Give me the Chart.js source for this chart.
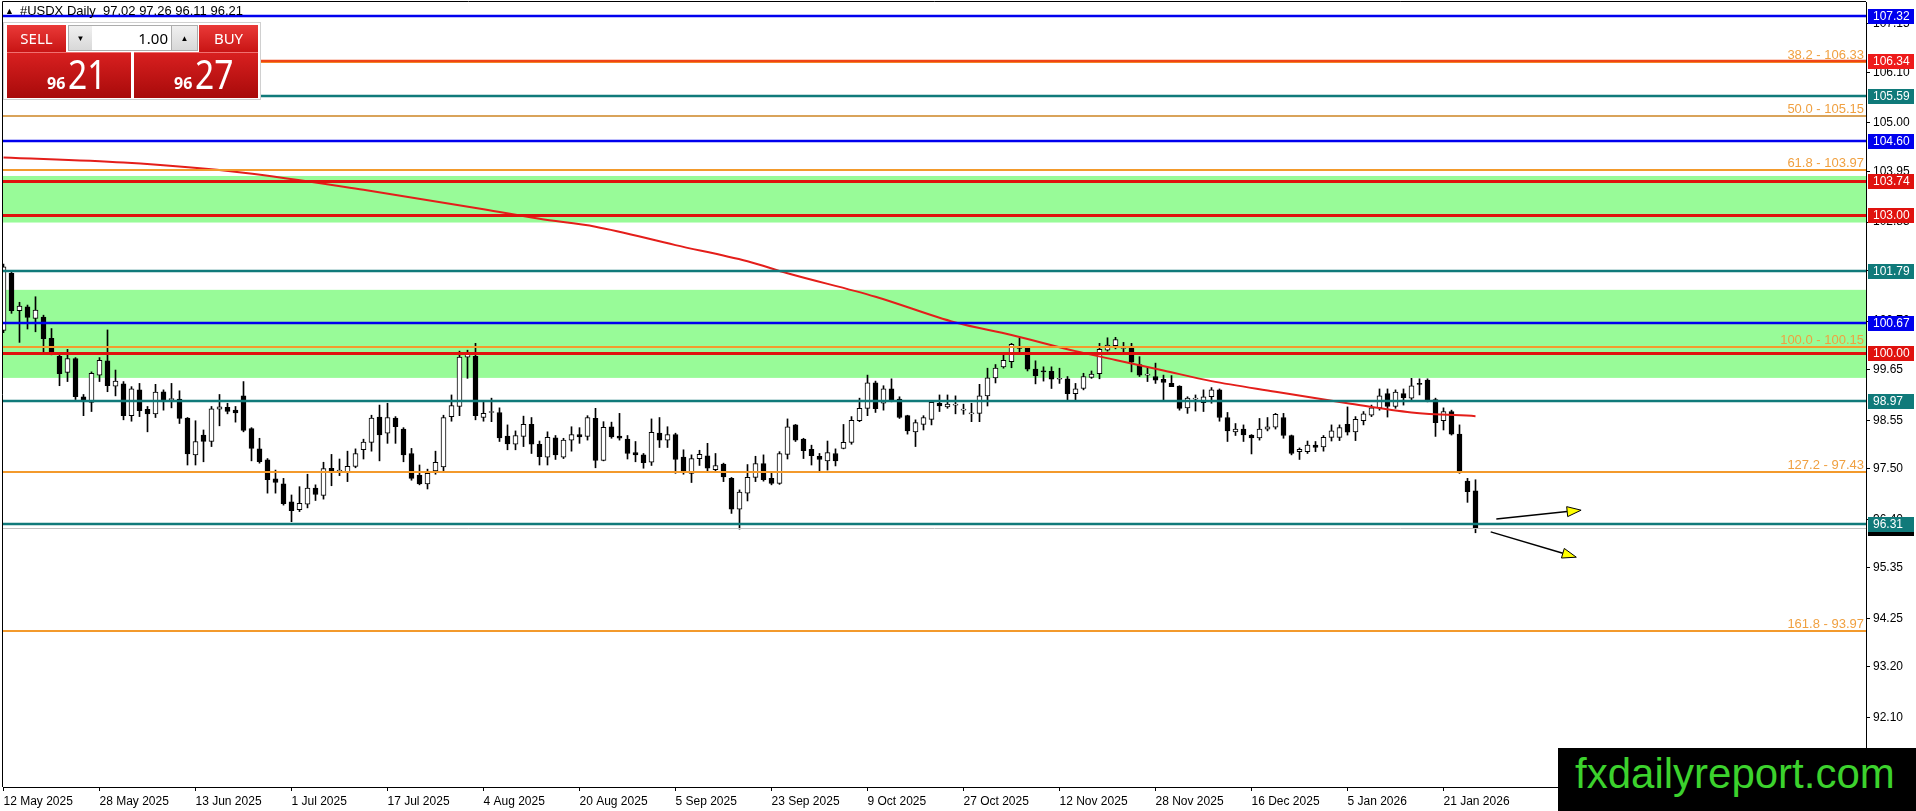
<!DOCTYPE html>
<html>
<head>
<meta charset="utf-8">
<script src="https://cdn.jsdelivr.net/npm/chart.js@4.4.1/dist/chart.umd.min.js"></script>
<style>
  body { margin: 0; background: #fff; overflow: hidden; }
  #wrap { position: relative; width: 1916px; height: 811px; }
  #title { position: absolute; left: 5px; top: 3px; font: 13px "Liberation Sans", Arial, sans-serif; color: #000; white-space: pre; }
  #title .tri { font-size: 9px; vertical-align: 1px; margin-right: 6px; }
  #panel { position: absolute; left: 3px; top: 22px; width: 256px; height: 76px; background: #fff; border: 1px solid #d0d0d0; }
  .btn, .spin, .val, .price { position: absolute; box-sizing: border-box; font-family: "Noto Sans", sans-serif; }
  .btn { top: 2px; height: 27px; color: #fff; font-size: 15px; line-height: 26px; text-align: center;
         background: linear-gradient(#ea3a38, #c81414); }
  .spin { top: 2px; height: 26px; background: linear-gradient(#f0f0f0, #d8d8d8); border: 1px solid #adadad;
          font-size: 8px; line-height: 24px; text-align: center; color: #000; }
  .val { top: 2px; height: 26px; left: 88px; width: 80px; background: #fff; border-top: 1px solid #adadad; border-bottom: 1px solid #adadad;
         font-size: 15px; line-height: 24px; text-align: right; padding-right: 4px; color: #000; }
  .price { top: 29px; height: 46px; background: linear-gradient(#d82020, #a80a0a); color: #fff; border-top: 1px solid #f07070; }
  .price .sm { position: absolute; left: 40px; top: 22px; font-size: 16px; font-weight: bold; line-height: 16px; }
  .price .big { position: absolute; left: 61px; top: 1px; font-size: 40px; line-height: 40px; transform: scaleX(0.84); transform-origin: left; }
  #logo { position: absolute; left: 1558px; top: 748px; width: 358px; height: 63px; background: #000; }
  #logo span { position: absolute; left: 17px; top: 2px; font: 42px/47px "Liberation Sans", Arial, sans-serif; color: #3cd22d; }
</style>
</head>
<body>
<div id="wrap">
  <canvas id="chart"></canvas>
  <div id="title"><span class="tri">▲</span>#USDX Daily  97.02 97.26 96.11 96.21</div>
  <div id="panel">
    <div class="btn" style="left:3px;width:59px">SELL</div>
    <div class="spin" style="left:64px;width:25px">▼</div>
    <div class="val">1.00</div>
    <div class="spin" style="left:167px;width:27px">▲</div>
    <div class="btn" style="left:195px;width:59px">BUY</div>
    <div class="price" style="left:3px;width:124px"><span class="sm">96</span><span class="big">21</span></div>
    <div class="price" style="left:130px;width:124px"><span class="sm">96</span><span class="big">27</span></div>
  </div>
  <div id="logo"><span>fxdailyreport.com</span></div>
</div>
<script>
// daily bars, one per trading day from 12 May 2025
const dateLabels = ['12 May 2025', '28 May 2025', '13 Jun 2025', '1 Jul 2025', '17 Jul 2025', '4 Aug 2025',
  '20 Aug 2025', '5 Sep 2025', '23 Sep 2025', '9 Oct 2025', '27 Oct 2025', '12 Nov 2025', '28 Nov 2025',
  '16 Dec 2025', '5 Jan 2026', '21 Jan 2026'];
const barsPerLabel = 12;

const opens = [
  100.50, 101.74, 100.93, 101.01, 100.76, 100.79, 100.33, 99.94, 99.59, 99.89,
  99.06, 98.94, 99.53, 99.84, 99.29, 99.34, 98.65, 99.21, 98.79, 98.69,
  99.17, 99.00, 99.01, 98.60, 97.80, 98.23, 98.09, 98.79, 98.83, 98.77,
  99.08, 98.37, 97.93, 97.69, 97.28, 97.17, 96.78, 96.61, 96.73, 97.08,
  96.92, 97.51, 97.45, 97.43, 97.55, 97.91, 98.07, 98.62, 98.27, 98.60,
  98.36, 97.83, 97.36, 97.17, 97.45, 97.54, 98.63, 98.85, 99.92, 99.94,
  98.61, 98.72, 98.72, 98.21, 98.03, 98.20, 98.46, 98.03, 97.75, 98.17,
  97.75, 98.12, 98.24, 98.20, 98.59, 97.68, 98.41, 98.21, 98.14, 97.85,
  97.80, 97.64, 98.27, 98.12, 98.24, 97.75, 97.40, 97.72, 97.78, 97.48,
  97.60, 97.29, 96.62, 96.97, 97.31, 97.61, 97.29, 97.18, 97.81, 98.45,
  98.14, 97.92, 97.77, 97.67, 97.83, 97.94, 98.07, 98.54, 98.81, 99.36,
  98.92, 99.23, 99.01, 98.65, 98.30, 98.46, 98.57, 98.92, 98.84, 98.88,
  98.77, 98.69, 98.70, 99.08, 99.47, 99.71, 99.82, 100.12, 100.12, 99.66,
  99.61, 99.61, 99.44, 99.45, 99.13, 99.24, 99.48, 99.56, 100.07, 100.17,
  100.11, 100.11, 99.76, 99.53, 99.50, 99.44, 99.35, 99.29, 98.82, 99.01,
  98.93, 99.06, 99.21, 98.61, 98.30, 98.36, 98.23, 98.17, 98.36, 98.40,
  98.61, 98.22, 97.87, 97.87, 98.01, 97.97, 98.18, 98.18, 98.46, 98.30,
  98.54, 98.66, 98.82, 99.13, 98.85, 99.13, 99.03, 99.35, 99.42, 99.00,
  98.54, 98.74, 98.25, 97.23, 97.02
];
const highs = [
  101.94, 101.78, 101.11, 101.05, 101.23, 100.83, 100.54, 99.97, 100.09, 99.91,
  99.11, 99.60, 99.91, 100.51, 99.64, 99.39, 99.28, 99.35, 98.85, 99.33,
  99.21, 99.35, 99.19, 98.61, 98.54, 98.34, 98.85, 99.11, 98.92, 98.85,
  99.39, 98.39, 98.16, 97.72, 97.47, 97.29, 96.93, 97.11, 97.38, 97.15,
  97.64, 97.81, 97.71, 97.88, 97.93, 98.14, 98.66, 98.88, 98.92, 98.63,
  98.39, 97.94, 97.58, 97.49, 97.88, 98.66, 99.10, 100.05, 100.07, 100.22,
  98.95, 99.03, 98.82, 98.45, 98.32, 98.64, 98.61, 98.10, 98.30, 98.22,
  98.16, 98.41, 98.39, 98.65, 98.81, 98.52, 98.51, 98.70, 98.22, 98.09,
  97.83, 98.58, 98.61, 98.41, 98.27, 97.91, 97.80, 97.90, 98.05, 97.83,
  97.62, 97.31, 97.04, 97.59, 97.77, 97.80, 97.40, 97.87, 98.58, 98.46,
  98.16, 98.01, 97.83, 98.10, 97.93, 98.46, 98.63, 99.03, 99.53, 99.40,
  99.30, 99.45, 99.06, 98.66, 98.56, 98.65, 98.97, 99.10, 99.10, 99.08,
  98.90, 98.92, 99.33, 99.68, 99.76, 99.97, 100.22, 100.33, 100.15, 99.84,
  99.71, 99.71, 99.68, 99.50, 99.35, 99.57, 99.62, 100.22, 100.34, 100.35,
  100.24, 100.22, 99.93, 99.69, 99.79, 99.53, 99.52, 99.30, 99.06, 99.10,
  99.21, 99.26, 99.23, 98.72, 98.48, 98.45, 98.24, 98.59, 98.61, 98.70,
  98.70, 98.23, 97.95, 98.10, 98.09, 98.22, 98.45, 98.45, 98.84, 98.63,
  98.74, 98.88, 99.23, 99.23, 99.21, 99.23, 99.46, 99.45, 99.45, 99.03,
  98.82, 98.77, 98.45, 97.29, 97.26
];
const lows = [
  100.45, 100.87, 100.24, 100.53, 100.47, 100.00, 99.97, 99.30, 99.39, 99.00,
  98.65, 98.74, 99.39, 99.17, 99.08, 98.56, 98.53, 98.63, 98.30, 98.61,
  98.77, 98.82, 98.48, 97.58, 97.58, 97.65, 97.98, 98.43, 98.69, 98.51,
  98.30, 97.67, 97.62, 96.97, 96.97, 96.71, 96.35, 96.57, 96.65, 96.81,
  96.84, 97.13, 97.35, 97.22, 97.52, 97.71, 97.88, 97.67, 98.05, 98.05,
  97.65, 97.25, 97.15, 97.06, 97.38, 97.42, 98.53, 98.65, 99.46, 98.56,
  98.53, 98.52, 98.09, 97.91, 97.91, 97.98, 97.83, 97.58, 97.58, 97.70,
  97.72, 97.88, 98.05, 98.12, 97.52, 97.67, 98.16, 98.12, 97.71, 97.65,
  97.51, 97.57, 97.96, 97.96, 97.40, 97.38, 97.20, 97.57, 97.45, 97.44,
  97.22, 96.53, 96.19, 96.80, 97.22, 97.23, 97.15, 97.16, 97.71, 98.09,
  97.72, 97.58, 97.45, 97.47, 97.56, 97.93, 98.03, 98.52, 98.65, 98.72,
  98.77, 98.95, 98.59, 98.25, 97.98, 98.34, 98.45, 98.74, 98.81, 98.69,
  98.68, 98.52, 98.52, 98.86, 99.36, 99.68, 99.69, 100.00, 99.62, 99.34,
  99.40, 99.24, 99.35, 98.99, 98.99, 99.21, 99.46, 99.45, 100.05, 100.10,
  100.00, 99.60, 99.50, 99.39, 99.35, 98.99, 99.28, 98.77, 98.70, 98.75,
  98.74, 98.92, 98.53, 98.09, 98.22, 98.09, 97.82, 98.12, 98.32, 98.36,
  98.16, 97.80, 97.70, 97.83, 97.87, 97.88, 98.10, 98.11, 98.23, 98.11,
  98.45, 98.63, 98.77, 98.62, 98.81, 98.88, 98.99, 99.10, 98.95, 98.20,
  98.34, 98.23, 97.40, 96.77, 96.11
];
const closes = [
  101.88, 100.93, 101.03, 100.78, 100.94, 100.32, 100.00, 99.56, 99.89, 99.06,
  99.00, 99.57, 99.85, 99.30, 99.40, 98.65, 99.23, 98.76, 98.69, 99.16,
  99.00, 99.01, 98.59, 97.82, 98.09, 98.09, 98.80, 98.84, 98.74, 98.71,
  98.33, 97.94, 97.65, 97.26, 97.20, 96.74, 96.59, 96.75, 97.08, 96.94,
  97.50, 97.44, 97.45, 97.55, 97.83, 98.08, 98.60, 98.23, 98.61, 98.41,
  97.80, 97.29, 97.17, 97.40, 97.64, 98.61, 98.87, 99.92, 99.98, 98.65,
  98.70, 98.72, 98.17, 98.04, 98.22, 98.46, 98.03, 97.76, 98.18, 97.80,
  98.12, 98.24, 98.19, 98.61, 97.68, 98.40, 98.19, 98.16, 97.83, 97.80,
  97.63, 98.29, 98.12, 98.24, 97.70, 97.44, 97.72, 97.81, 97.51, 97.57,
  97.32, 96.62, 96.99, 97.31, 97.61, 97.26, 97.18, 97.83, 98.41, 98.12,
  97.89, 97.78, 97.70, 97.85, 97.67, 98.07, 98.55, 98.81, 99.36, 98.80,
  99.23, 98.99, 98.61, 98.32, 98.50, 98.61, 98.94, 98.86, 98.90, 98.88,
  98.78, 98.70, 99.08, 99.47, 99.68, 99.85, 100.20, 100.11, 99.66, 99.52,
  99.60, 99.44, 99.44, 99.13, 99.23, 99.50, 99.55, 100.09, 100.18, 100.30,
  100.11, 99.81, 99.53, 99.53, 99.42, 99.37, 99.28, 98.81, 99.03, 99.02,
  99.06, 99.21, 98.61, 98.32, 98.36, 98.23, 98.17, 98.36, 98.41, 98.68,
  98.22, 97.83, 97.92, 98.01, 97.96, 98.18, 98.32, 98.39, 98.29, 98.57,
  98.69, 98.82, 99.08, 98.85, 99.16, 99.04, 99.30, 99.33, 98.99, 98.50,
  98.74, 98.25, 97.42, 97.00, 96.21
];

// moving average (bar index, value)
const maIdx = [0, 15, 30, 45, 60, 67, 74, 84, 93, 98, 109, 119, 126, 134, 139, 145, 151, 159, 168, 176, 184];
const maVals = [104.25, 104.14, 103.92, 103.55, 103.13, 102.92, 102.75, 102.35, 102.00, 101.74, 101.23,
  100.67, 100.40, 100.05, 99.86, 99.63, 99.40, 99.17, 98.92, 98.72, 98.64];

// horizontal levels
const levelVals = [107.32, 106.34, 105.59, 104.60, 103.74, 103.00, 101.79, 100.67, 100.00, 98.97, 96.31];
const fibVals = [106.33, 105.15, 103.97, 100.15, 97.43, 93.97];
const fibNames = ['38.2', '50.0', '61.8', '100.0', '127.2', '161.8'];
const zoneLow = [102.84, 99.47];
const zoneHigh = [103.85, 101.38];
const lastPrice = 96.21;
const yTicks = [107.15, 106.10, 105.00, 103.95, 102.85, 101.80, 100.70, 99.65, 98.55, 97.50, 96.40, 95.35, 94.25, 93.20, 92.10];

// arrows: [bar index, price]
const arrowFrom = [[186.6, 96.41], [185.9, 96.13]];
const arrowTo = [[197.2, 96.60], [196.6, 95.58]];

// styles
const BLUE = '#0000ee', TEAL = '#107a7a', RED = '#e0120e';
const levelColors = [BLUE, '#f04414', TEAL, BLUE, RED, RED, TEAL, BLUE, RED, TEAL, TEAL];
const levelWidths = [2.5, 2.5, 2.5, 2.5, 3, 3, 2.5, 2.5, 3, 2.5, 2.5];
const boxColors = [BLUE, '#ee1a1a', TEAL, BLUE, RED, RED, TEAL, BLUE, RED, TEAL, TEAL];
const fibColors = ['#f39a2c', '#d9a35a', '#f39a2c', '#f39a2c', '#f39a2c', '#f39a2c'];
const FONT = '"Liberation Sans", Arial, sans-serif';

const overlay = {
  id: 'overlay',
  beforeDatasetsDraw(chart) {
    const { ctx, chartArea: a, scales: { y } } = chart;
    ctx.save();
    ctx.fillStyle = '#98fb98';
    zoneLow.forEach((lo, k) => {
      const y1 = y.getPixelForValue(zoneHigh[k]);
      const y2 = y.getPixelForValue(lo);
      ctx.fillRect(a.left, y1, a.right - a.left, y2 - y1);
    });
    ctx.restore();
  },
  afterDatasetsDraw(chart) {
    const { ctx, chartArea: a, scales: { x, y } } = chart;
    ctx.save();
    // fibonacci lines
    fibVals.forEach((v, k) => {
      const py = Math.round(y.getPixelForValue(v));
      ctx.strokeStyle = fibColors[k];
      ctx.lineWidth = 2;
      ctx.beginPath(); ctx.moveTo(a.left, py); ctx.lineTo(a.right, py); ctx.stroke();
    });
    // bid line
    const pb = Math.round(y.getPixelForValue(lastPrice)) + 0.5;
    ctx.strokeStyle = '#c0c0c0'; ctx.lineWidth = 1;
    ctx.beginPath(); ctx.moveTo(a.left, pb); ctx.lineTo(a.right, pb); ctx.stroke();
    // levels
    levelVals.forEach((v, k) => {
      let py = y.getPixelForValue(v);
      py = levelWidths[k] === 3 ? Math.round(py) + 0.5 : Math.round(py);
      ctx.strokeStyle = levelColors[k];
      ctx.lineWidth = levelWidths[k];
      ctx.beginPath(); ctx.moveTo(a.left, py); ctx.lineTo(a.right, py); ctx.stroke();
    });
    // fibonacci labels
    ctx.font = '13px ' + FONT;
    ctx.fillStyle = '#f0a040';
    ctx.textAlign = 'right';
    ctx.textBaseline = 'alphabetic';
    fibVals.forEach((v, k) => {
      const py = y.getPixelForValue(v);
      ctx.fillText(fibNames[k] + ' - ' + v.toFixed(2), a.right - 2, py - 3);
    });
    // arrows
    arrowFrom.forEach((f, k) => {
      const x1 = x.getPixelForValue(f[0]), y1 = y.getPixelForValue(f[1]);
      const x2 = x.getPixelForValue(arrowTo[k][0]), y2 = y.getPixelForValue(arrowTo[k][1]);
      const ang = Math.atan2(y2 - y1, x2 - x1);
      const hl = 14, hw = 5;
      const bx = x2 - hl * Math.cos(ang), by = y2 - hl * Math.sin(ang);
      ctx.strokeStyle = '#000';
      ctx.lineWidth = 1.5;
      ctx.beginPath(); ctx.moveTo(x1, y1); ctx.lineTo(bx, by); ctx.stroke();
      ctx.beginPath();
      ctx.moveTo(x2, y2);
      ctx.lineTo(bx + hw * Math.sin(ang), by - hw * Math.cos(ang));
      ctx.lineTo(bx - hw * Math.sin(ang), by + hw * Math.cos(ang));
      ctx.closePath();
      ctx.fillStyle = '#ffff00';
      ctx.fill();
      ctx.lineWidth = 1;
      ctx.stroke();
    });
    ctx.restore();
  },
  afterDraw(chart) {
    const { ctx, chartArea: a, scales: { y } } = chart;
    ctx.save();
    // frame top and left
    ctx.strokeStyle = '#000'; ctx.lineWidth = 1;
    ctx.beginPath();
    ctx.moveTo(a.left - 0.5, a.bottom); ctx.lineTo(a.left - 0.5, a.top - 0.5); ctx.lineTo(a.right, a.top - 0.5);
    ctx.stroke();
    // price boxes on the axis
    ctx.font = '12px ' + FONT;
    ctx.textAlign = 'left';
    ctx.textBaseline = 'middle';
    const box = (v, color) => {
      const py = Math.round(y.getPixelForValue(v));
      ctx.fillStyle = color;
      ctx.fillRect(a.right + 2, py - 7, 46, 15);
      ctx.fillStyle = '#fff';
      ctx.fillText(v.toFixed(2), a.right + 7, py + 1);
    };
    box(lastPrice, '#000');
    levelVals.forEach((v, k) => box(v, boxColors[k]));
    ctx.restore();
  }
};

const bodyData = opens.map((o, i) => ({ x: i, y: [o, closes[i]] }));
const wickData = lows.map((l, i) => ({ x: i, y: [l, highs[i]] }));
const bodyColors = opens.map((o, i) => closes[i] >= o ? '#ffffff' : '#000000');
const maData = maIdx.map((v, k) => ({ x: v, y: maVals[k] }));

new Chart(document.getElementById('chart'), {
  type: 'bar',
  data: {
    datasets: [
      {
        type: 'line', data: maData, borderColor: '#e41e1a', borderWidth: 2,
        pointRadius: 0, cubicInterpolationMode: 'monotone', fill: false
      },
      {
        data: bodyData, backgroundColor: bodyColors, borderColor: '#000', borderWidth: 1,
        borderSkipped: false, barThickness: 5, grouped: false, minBarLength: 1
      },
      {
        data: wickData, backgroundColor: '#000', borderWidth: 0, barThickness: 1, grouped: false
      }
    ]
  },
  options: {
    responsive: true,
    maintainAspectRatio: false,
    animation: false,
    events: [],
    layout: { padding: { top: 2, left: 3, right: 0, bottom: 0 } },
    plugins: { legend: { display: false }, tooltip: { enabled: false } },
    scales: {
      x: {
        type: 'linear', offset: false, min: -0.0625, max: 232.8125,
        afterBuildTicks: s => { s.ticks = dateLabels.map((_, k) => ({ value: k * barsPerLabel })); },
        afterFit: s => { s.height = 24; s.paddingLeft = 0; s.paddingRight = 0; },
        ticks: {
          callback: (v, i) => dateLabels[i], align: 'start', autoSkip: false, maxRotation: 0,
          color: '#000', font: { family: FONT, size: 12 }, padding: 3
        },
        grid: { drawOnChartArea: false, tickLength: 4, color: '#000', offset: false },
        border: { display: true, color: '#000', width: 1 }
      },
      y: {
        type: 'linear', position: 'right', min: 90.595, max: 107.624,
        afterBuildTicks: s => { s.ticks = yTicks.map(v => ({ value: v })); },
        afterFit: s => { s.width = 50; s.paddingTop = 0; s.paddingBottom = 0; },
        ticks: { callback: v => v.toFixed(2), color: '#000', font: { family: FONT, size: 12 }, padding: 3 },
        grid: { drawOnChartArea: false, tickLength: 4, color: '#000' },
        border: { display: true, color: '#000', width: 1 }
      }
    }
  },
  plugins: [overlay]
});
</script>
</body>
</html>
